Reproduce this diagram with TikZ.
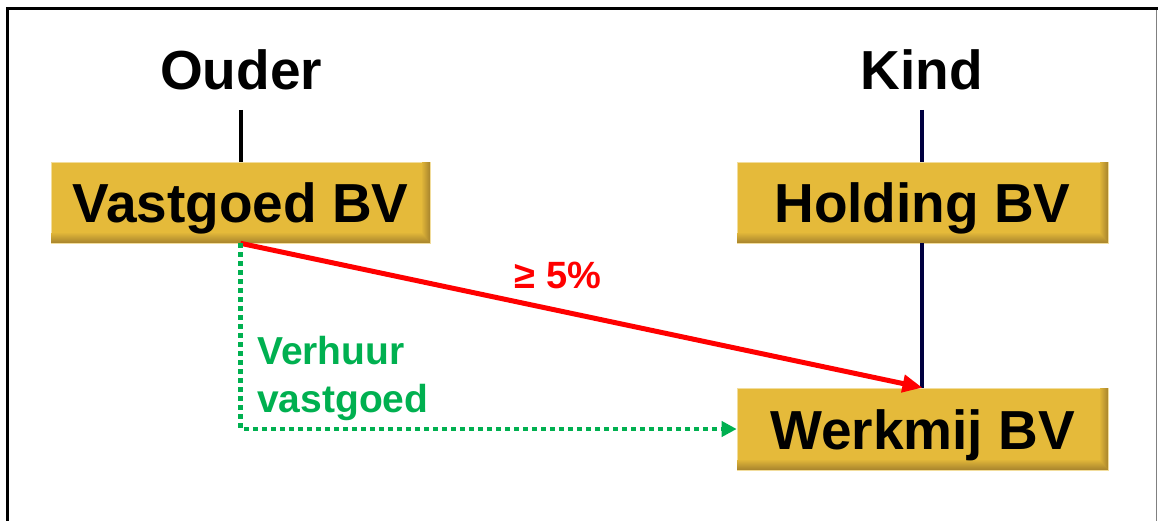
\documentclass[tikz,border=0pt]{standalone}
\usepackage{fontspec}
\setmainfont{Liberation Sans}
\usetikzlibrary{arrows.meta}
\definecolor{boxgold}{HTML}{E5BA3A}
\definecolor{boxdark}{HTML}{AC882E}
\definecolor{navyline}{HTML}{000040}
\definecolor{redline}{HTML}{FF0000}
\definecolor{greenline}{HTML}{00B050}
\tikzset{
  entity/.style={
    fill=boxgold, draw=boxgold!50!white, line width=0.6pt,
    minimum width=375pt, minimum height=81pt, inner sep=0pt,
    font=\fontsize{55}{60}\selectfont\bfseries,
    text height=41pt, text depth=0pt},
  title/.style={font=\fontsize{55}{60}\selectfont\bfseries, anchor=base, inner sep=0pt},
  vline/.style={line width=4.5pt},
  own/.style={redline, line width=5pt, -{Triangle[length=20pt,width=17pt]}},
  rent/.style={greenline, line width=4.5pt, dash pattern=on 5pt off 4pt, -{Triangle[length=15pt,width=15pt]}},
}
\begin{document}
\begin{tikzpicture}[x=1pt,y=-1pt]
\useasboundingbox (0,0) rectangle (1158,521);
% frame
\draw[line width=3pt] (7.5,521) -- (7.5,8.5) -- (1158,8.5);
\draw[gray, line width=1pt] (1156.5,10) -- (1156.5,521);
% titles
\node[title] (ouder) at (241,90) {Ouder};
\node[title] (kind) at (922,90) {Kind};
% boxes
\node[entity, minimum width=379pt] (vast) at (240.5,202.5) {};
\node[entity, minimum width=371pt] (hold) at (922.5,202.5) {};
\node[entity, minimum width=371pt, minimum height=82pt] (werk) at (922.5,429) {};
\foreach \n in {vast,hold,werk}{
  \foreach \i in {1,...,10}{
    \pgfmathtruncatemacro\pc{\i*10}
    \pgfmathtruncatemacro\ya{11-\i}
    \pgfmathtruncatemacro\yb{10-\i}
    \fill[boxdark!\pc!boxgold] ([yshift=\ya pt]\n.south west) rectangle ([yshift=\yb pt]\n.south east);
  }
  \foreach \i in {1,...,8}{
    \pgfmathtruncatemacro\pc{\i*12}
    \pgfmathtruncatemacro\xa{\i-9}
    \pgfmathtruncatemacro\xb{\i-8}
    \pgfmathtruncatemacro\yc{10-\i}
    \fill[boxdark!\pc!boxgold] ([xshift=\xa pt]\n.north east) rectangle ([xshift=\xb pt,yshift=\yc pt]\n.south east);
  }
}
\node[font=\fontsize{55}{60}\selectfont\bfseries, text height=41pt, text depth=0pt, inner sep=0pt] at (vast) {Vastgoed BV};
\node[font=\fontsize{55}{60}\selectfont\bfseries, text height=41pt, text depth=0pt, inner sep=0pt] at (hold) {Holding BV};
\node[font=\fontsize{55}{60}\selectfont\bfseries, text height=41pt, text depth=0pt, inner sep=0pt] at (werk) {Werkmij BV};
% vertical lines
\coordinate (ot) at (241,110);
\coordinate (kt) at (922,110);
\draw[vline, black] (ot) -- (ot |- vast.north);
\draw[vline, navyline] (kt) -- (kt |- hold.north);
\draw[vline, navyline] (kt |- hold.south) -- (kt |- werk.north);
% ownership arrow
\draw[own] (vast.south) -- (werk.north);
\node[redline, font=\fontsize{38}{44}\selectfont\bfseries, anchor=base, inner sep=0pt] (pct) at (558,288) {≥ 5\%};
% rent arrow
\draw[rent] (vast.south) |- (werk.west);
\node[greenline, font=\fontsize{39}{48}\selectfont\bfseries, align=left, anchor=base west, inner sep=0pt] (rentlbl) at (257,412) {Verhuur\\vastgoed};
\end{tikzpicture}
\end{document}
